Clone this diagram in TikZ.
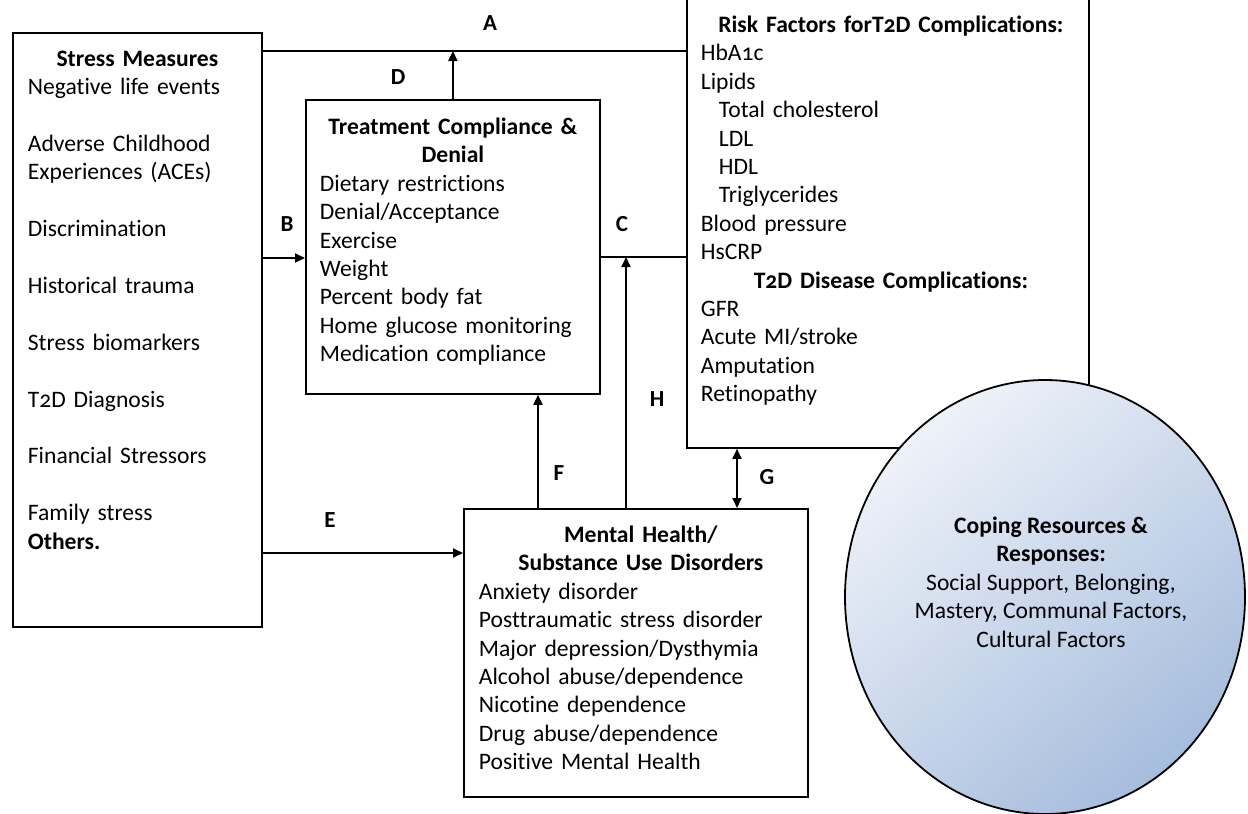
\documentclass[tikz,border=0pt]{standalone}
\usepackage{fontspec}
\setmainfont{Carlito}[Ligatures=NoCommon, Numbers=OldStyle]
\usetikzlibrary{arrows.meta,shapes.geometric}
\definecolor{coplight}{HTML}{EEF2F9}
\definecolor{copdark}{HTML}{A6BDDD}
\begin{document}
\begin{tikzpicture}[
  x=0.5pt, y=-0.5pt,
  font=\fontsize{11.8}{14.2}\selectfont,
  >={Triangle[length=5pt,width=4.5pt]},
  line width=0.9pt,
  panel/.style={draw, anchor=north west, inner sep=0pt},
  body/.style={anchor=north west, inner sep=0pt, align=left},
  lbl/.style={font=\fontsize{11.5}{14}\selectfont\bfseries}
]
\clip (0,0) rectangle (1248,814);
% boxes
\node[panel, minimum width=124.5pt, minimum height=297pt] (smbox) at (12,32) {};
\node[panel, minimum width=147pt, minimum height=147pt] (treatbox) at (305,99) {};
\node[panel, minimum width=201pt, minimum height=234pt] (riskbox) at (686,-21) {};
\node[panel, minimum width=172pt, minimum height=144pt] (mhbox) at (463,508) {};
\node[draw, ellipse, minimum width=200pt, minimum height=217pt, inner sep=0pt,
  top color=coplight, bottom color=copdark, shading angle=40] (copecirc) at (1045,597) {};
% texts
\node[body, text width=109.5pt] (smtext) at (27,50) {%
  \centerline{\textbf{Stress Measures}}
  Negative life events\\ \mbox{}\\ Adverse Childhood\\ Experiences (ACEs)\\ \mbox{}\\
  Discrimination\\ \mbox{}\\ Historical trauma\\ \mbox{}\\ Stress biomarkers\\ \mbox{}\\
  T2D Diagnosis\\ \mbox{}\\ Financial Stressors\\ \mbox{}\\ Family stress\\
  \textbf{Others.}};
\node[body, text width=133pt] (treattext) at (319,117) {%
  \centerline{\textbf{Treatment Compliance \&}}
  \centerline{\textbf{Denial}}
  Dietary restrictions\\ Denial/Acceptance\\ Exercise\\ Weight\\ Percent body fat\\
  Home glucose monitoring\\ Medication compliance};
\node[body, text width=190pt] (risktext) at (700,15) {%
  \centerline{\textbf{Risk Factors forT2D Complications:}}
  HbA1c\\ Lipids\\ \hspace*{9pt}Total cholesterol\\ \hspace*{9pt}LDL\\ \hspace*{9pt}HDL\\
  \hspace*{9pt}Triglycerides\\ Blood pressure\\ HsCRP\\
  \centerline{\textbf{T2D Disease Complications:}}
  GFR\\ Acute MI/stroke\\ Amputation\\ Retinopathy};
\node[body, text width=162pt] (mhtext) at (478,525) {%
  \centerline{\textbf{Mental Health/}}
  \centerline{\textbf{Substance Use Disorders}}
  Anxiety disorder\\ Posttraumatic stress disorder\\ Major depression/Dysthymia\\
  Alcohol abuse/dependence\\ Nicotine dependence\\ Drug abuse/dependence\\
  Positive Mental Health};
\node[align=center, inner sep=0pt] (copetext) at (1051,582) {%
  \textbf{Coping Resources \&}\\ \textbf{Responses:}\\ Social Support, Belonging,\\
  Mastery, Communal Factors,\\ Cultural Factors};
% joins
\coordinate (ajoin) at (treatbox.north |- 0,51);
\coordinate (bjoin) at (0,258);
\coordinate (hjoin) at (626,257);
\coordinate (fjoin) at (538,0);
\coordinate (gjoin) at (737,0);
\coordinate (ejoin) at (0,553);
% connectors
\draw (smbox.east |- ajoin) -- (riskbox.west |- ajoin);
\draw[->] (treatbox.north) -- (ajoin);
\draw[->] (smbox.east |- bjoin) -- (treatbox.west |- bjoin);
\draw (treatbox.east |- hjoin) -- (riskbox.west |- hjoin);
\draw[->] (mhbox.north -| hjoin) -- (hjoin);
\draw[->] (mhbox.north -| fjoin) -- (treatbox.south -| fjoin);
\draw[<->] (riskbox.south -| gjoin) -- (mhbox.north -| gjoin);
\draw[->] (smbox.east |- ejoin) -- (mhbox.west |- ejoin);
% labels
\node[lbl] (alab) at (490,23) {A};
\node[lbl] (dlab) at (398,77) {D};
\node[lbl] (blab) at (287,224) {B};
\node[lbl] (clab) at (622,224) {C};
\node[lbl] (hlab) at (657,399) {H};
\node[lbl] (flab) at (559,473) {F};
\node[lbl] (glab) at (767,477) {G};
\node[lbl] (elab) at (330,520) {E};
\end{tikzpicture}
\end{document}
